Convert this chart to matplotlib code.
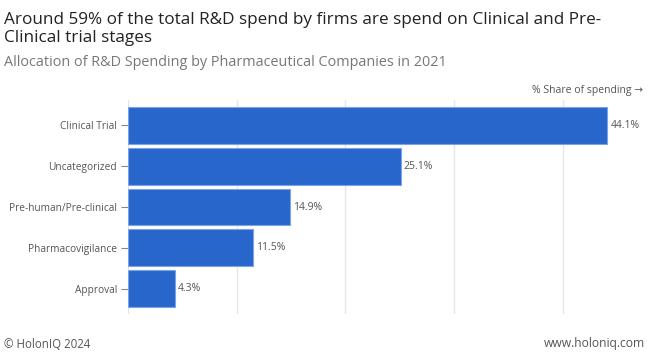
import matplotlib.pyplot as plt

plt.rcParams['font.family'] = ['Open Sans', 'DejaVu Sans']

categories = ['Clinical Trial', 'Uncategorized', 'Pre-human/Pre-clinical', 'Pharmacovigilance', 'Approval']
shares = [44.1, 25.1, 14.9, 11.5, 4.3]
value_labels = ['44.1%', '25.1%', '14.9%', '11.5%', '4.3%']

fig = plt.figure(figsize=(6.49, 3.54), dpi=100)
ax = fig.add_axes([128 / 649, 1 - 314 / 354, (644 - 128) / 649, 214 / 354])

pos = list(range(len(categories)))
ax.barh(pos, shares, height=0.9, color='#2966cc', edgecolor='#7ba3ea', linewidth=0.8, zorder=3)
for p, v, lab in zip(pos, shares, value_labels):
    ax.text(v + 0.3, p, lab, va='center', ha='left', fontsize=7.5, color='#555555')

ax.set_xlim(0, 47.5)
ax.set_yticks(pos)
ax.set_yticklabels(categories, fontsize=7.3, color='#555555')
ax.set_xticks([0, 10, 20, 30, 40])
ax.tick_params(axis='x', length=0, labelbottom=False)
ax.tick_params(axis='y', length=5, color='#888888', pad=3)
ax.grid(axis='x', color='#e6e6e6', linewidth=1, zorder=0)
for s in ax.spines.values():
    s.set_visible(False)
ax.set_ylim(4.62, -0.62)

fig.text(643 / 649, 1 - 90 / 354, '% Share of spending \u2192', ha='right', va='center', fontsize=7.5, color='#555555')

fig.text(4 / 649, 1 - 20 / 354, 'Around 59% of the total R&D spend by firms are spend on Clinical and Pre-',
         ha='left', va='center', fontsize=12.3, color='#222222')
fig.text(4 / 649, 1 - 38 / 354, 'Clinical trial stages', ha='left', va='center', fontsize=12.3, color='#222222')
fig.text(4 / 649, 1 - 63 / 354, 'Allocation of R&D Spending by Pharmaceutical Companies in 2021',
         ha='left', va='center', fontsize=10.4, color='#777777')

fig.text(4 / 649, 1 - 344 / 354, '\u00a9 HolonIQ 2024', ha='left', va='center', fontsize=8.3, color='#555555')
fig.text(645 / 649, 1 - 344 / 354, 'www.holoniq.com', ha='right', va='center', fontsize=8.7, color='#555555')

fig.savefig('out.png', dpi=100)
